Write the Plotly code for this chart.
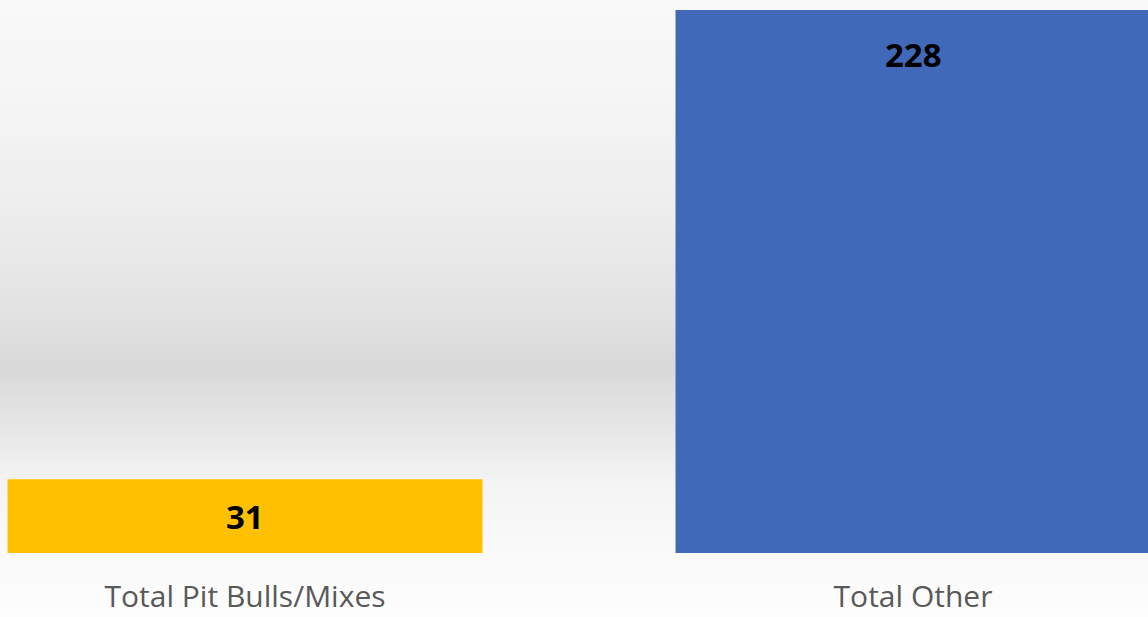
import plotly.graph_objects as go

categories = ["Total Pit Bulls/Mixes", "Total Other"]
values = [31, 228]
bar_colors = ["#FFC000", "#4069B9"]

W, H = 1148, 617
MB = 64  # bottom margin
plot_h = H - MB
ymax = 228 * plot_h / 543.0
px_per_unit = plot_h / ymax

fig = go.Figure()
fig.add_trace(go.Bar(
    x=categories, y=values,
    marker=dict(color=bar_colors, line=dict(width=0)),
    hoverinfo="skip",
))

# value labels inside top of bars
for c, v in zip(categories, values):
    shift = -min(44, v * px_per_unit / 2)
    fig.add_annotation(
        x=c, y=v, xref="x", yref="y",
        text=f"<b>{v}</b>", showarrow=False,
        yanchor="middle", yshift=shift,
        font=dict(family="Open Sans, Lato, sans-serif", size=33, color="#000000"),
    )

# background vertical gradient (paper-space bands)
stops = [(0, 249), (100, 245), (200, 238), (290, 229), (370, 217),
         (432, 231), (480, 243), (553, 250), (617, 253)]

def gray_at(py):
    for (y0, g0), (y1, g1) in zip(stops[:-1], stops[1:]):
        if y0 <= py <= y1:
            t = (py - y0) / (y1 - y0) if y1 > y0 else 0
            return g0 + (g1 - g0) * t
    return stops[-1][1]

shapes = []
N = 100
for i in range(N):
    p0 = H * i / N
    p1 = H * (i + 1) / N + 2.5
    g = int(round(gray_at((p0 + p1) / 2)))
    shapes.append(dict(
        type="rect", xref="paper", yref="paper",
        x0=0, x1=1,
        y0=1 - p1 / plot_h, y1=1 - p0 / plot_h,
        fillcolor=f"rgb({g},{g},{g})", line=dict(width=0), layer="below",
    ))

fig.update_layout(
    width=W, height=H,
    margin=dict(l=0, r=0, t=0, b=MB),
    paper_bgcolor="#FCFCFC",
    plot_bgcolor="rgba(0,0,0,0)",
    shapes=shapes,
    bargap=0.289,
    showlegend=False,
    xaxis=dict(
        range=[-0.3668, 1.3518],
        showgrid=False, zeroline=False, showline=False, ticks="",
        tickfont=dict(family="Open Sans, Lato, sans-serif", size=30, color="#595959"),
        ticklabelstandoff=23,
        automargin=False,
    ),
    yaxis=dict(
        range=[0, ymax], visible=False, showgrid=False, zeroline=False,
        automargin=False,
    ),
)

fig.write_html(
    "out.html",
    config={"displayModeBar": False},
    post_script="document.body.style.margin='0';document.body.style.overflow='hidden';",
)
